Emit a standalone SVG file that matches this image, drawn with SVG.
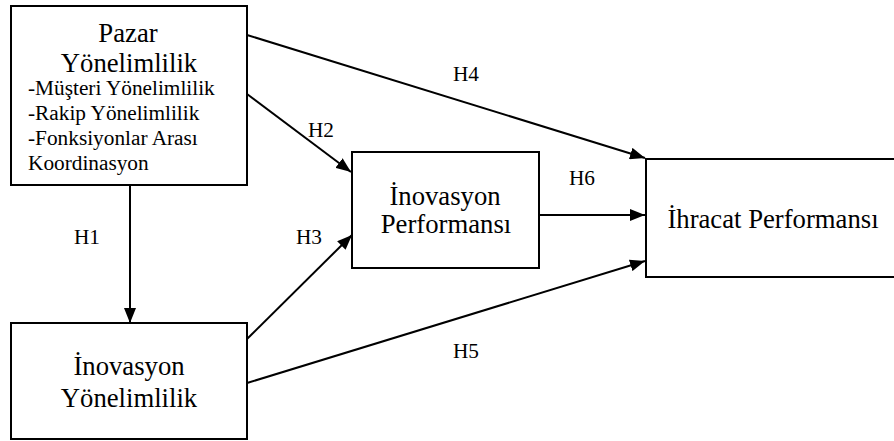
<svg xmlns="http://www.w3.org/2000/svg" width="894" height="441" viewBox="0 0 894 441">
<style>
.box{fill:#fff;stroke:#000;stroke-width:2}
text{font-family:"Liberation Serif","Times New Roman",serif;fill:#000}
.big{font-size:26.7px}
.sm{font-size:21.3px}
.c{text-anchor:middle}
.edge{stroke:#000;stroke-width:2;fill:none;marker-end:url(#ah)}
</style>
<defs>
<marker id="ah" markerUnits="userSpaceOnUse" markerWidth="16" markerHeight="12" refX="15" refY="6" orient="auto">
<path d="M0,0 L15,6 L0,12 z" fill="#000"/>
</marker>
</defs>
<rect width="894" height="441" fill="#fff"/>
<g id="connectors">
<line class="edge" x1="247" y1="35" x2="645" y2="158"/>
<line class="edge" x1="247" y1="94" x2="351" y2="172"/>
<line class="edge" x1="130" y1="186" x2="130" y2="323"/>
<line class="edge" x1="247" y1="339" x2="352" y2="235"/>
<line class="edge" x1="247" y1="383" x2="645" y2="261"/>
<line class="edge" x1="539" y1="215" x2="645" y2="215"/>
<text class="sm c" x="466" y="81">H4</text>
<text class="sm c" x="321" y="137">H2</text>
<text class="sm c" x="582" y="185">H6</text>
<text class="sm c" x="309" y="244">H3</text>
<text class="sm c" x="87" y="244">H1</text>
<text class="sm c" x="466" y="358">H5</text>
</g>
<g id="pazar">
<rect class="box" x="11" y="6" width="236" height="179"/>
<text class="big c" x="128" y="42">Pazar</text>
<text class="big c" x="129" y="72">Yönelimlilik</text>
<text class="sm" x="28" y="95">-Müşteri Yönelimlilik</text>
<text class="sm" x="28" y="120">-Rakip Yönelimlilik</text>
<text class="sm" x="28" y="145">-Fonksiyonlar Arası</text>
<text class="sm" x="28" y="170">Koordinasyon</text>
</g>
<g id="inovasyon-performansi">
<rect class="box" x="352" y="152" width="187" height="116"/>
<text class="big c" x="445" y="205">İnovasyon</text>
<text class="big c" x="446" y="233">Performansı</text>
</g>
<g id="inovasyon-yonelimlilik">
<rect class="box" x="11" y="323" width="236" height="116"/>
<text class="big c" x="129" y="375">İnovasyon</text>
<text class="big c" x="129" y="407">Yönelimlilik</text>
</g>
<g id="ihracat-performansi">
<rect class="box" x="646" y="159" width="260" height="118"/>
<text class="big c" x="773" y="228">İhracat Performansı</text>
</g>
</svg>
